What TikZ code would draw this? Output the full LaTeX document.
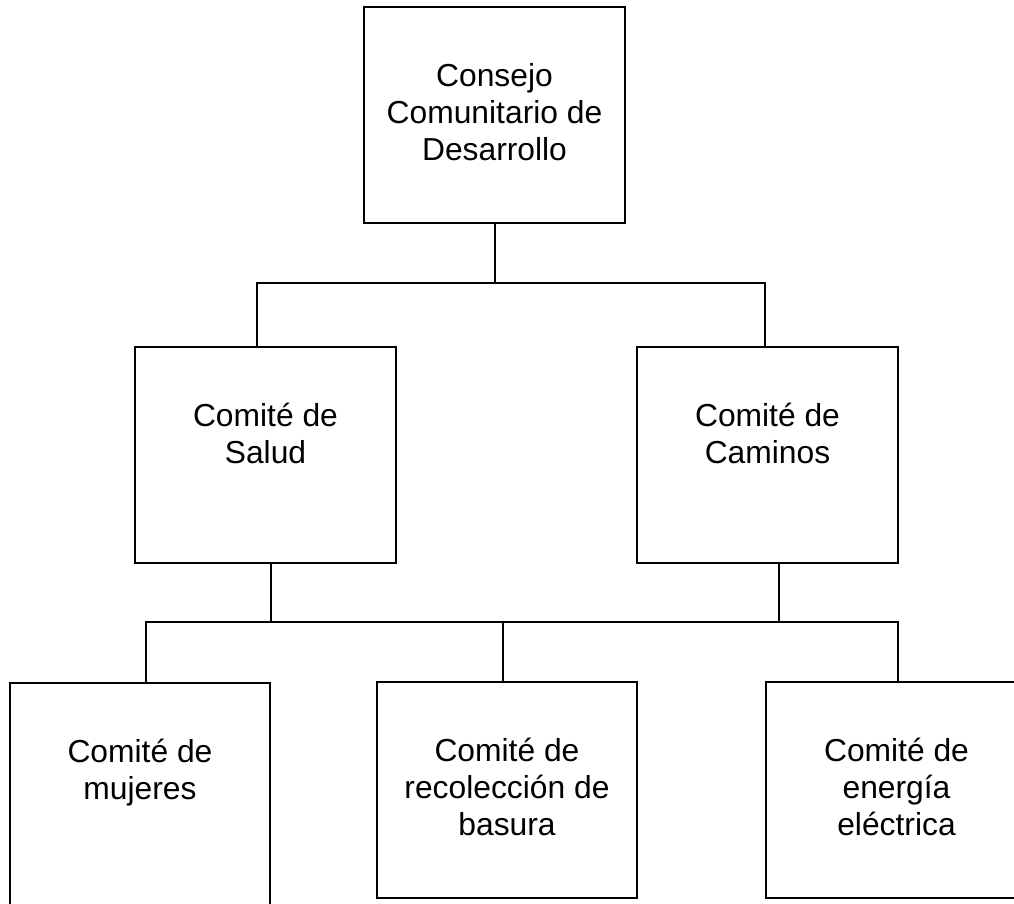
\documentclass[tikz,border=0pt]{standalone}
\usepackage{fontspec}
\setmainfont{Liberation Sans}
\tikzset{
  caja/.style={draw,line width=2pt,minimum width=261pt,minimum height=216pt,inner sep=0pt},
  rotulo/.style={font=\fontsize{31.8}{37}\selectfont,align=center,anchor=north,inner sep=0pt,yshift=-56pt}
}
\begin{document}
\begin{tikzpicture}[x=1pt,y=-1pt,line width=2pt]
\useasboundingbox (0,0) rectangle (1014,903);
\clip (0,0) rectangle (1014,903);
    \node[caja,label={[rotulo]north:Consejo\\Comunitario de\\Desarrollo}](consejo) at (494.5,115){};
    \node[caja,label={[rotulo]north:Comité de\\Salud}](salud) at (265.5,455){};
    \node[caja,label={[rotulo]north:Comité de\\Caminos}](caminos) at (767.5,455){};
    \node[caja,minimum width=260pt,minimum height=240pt,label={[rotulo]north:Comité de\\mujeres}](mujeres) at (140,803){};
    \node[caja,minimum width=260pt,label={[rotulo]north:Comité de\\recolección de\\basura}](basura) at (507,790){};
    \node[caja,label={[rotulo]north:Comité de\\energía\\eléctrica}](energia) at (896.5,790){};
\coordinate (s1) at (257,283);
\coordinate (c1) at (765,283);
\coordinate (s2) at (271,622);
\coordinate (c2) at (779,622);
\coordinate (m2) at (146,622);
\coordinate (r2) at (503,622);
\coordinate (e2) at (898,622);
    \draw(consejo.south)--(consejo.south|-s1);
    \draw(s1|-salud.north)--(s1)--(c1)--(c1|-caminos.north);
    \draw(s2|-salud.south)--(s2);
    \draw(c2|-caminos.south)--(c2);
    \draw(m2|-mujeres.north)--(m2)--(e2)--(e2|-energia.north);
    \draw(r2)--(r2|-basura.north);

\end{tikzpicture}
\end{document}
